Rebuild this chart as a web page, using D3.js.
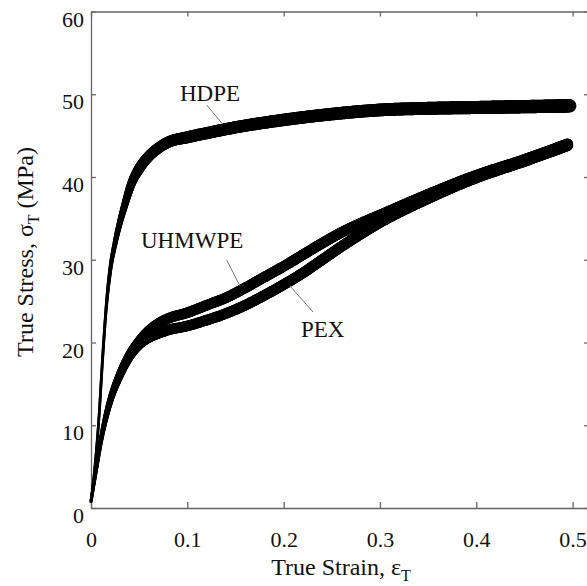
<!DOCTYPE html>
<html>
<head>
<meta charset="utf-8">
<script src="https://cdn.jsdelivr.net/npm/d3@7"></script>
<style>
  body { margin: 0; background: #fff; }
  svg { font-family: "Liberation Serif", "Times New Roman", serif; }
</style>
</head>
<body>
<svg id="chart" width="587" height="586"></svg>
<script>
// values: [true strain, true stress MPa]
var hdpe = [[0,0.8],[0.004,5],[0.008,10.5],[0.012,18],[0.016,24.5],[0.02,28.8],[0.025,32],
  [0.03,34.5],[0.035,36.6],[0.042,39.2],[0.05,41],[0.06,42.5],[0.07,43.5],[0.08,44.2],
  [0.1,44.8],[0.12,45.3],[0.15,46],[0.2,46.9],[0.25,47.6],[0.3,48.1],[0.35,48.3],
  [0.4,48.4],[0.45,48.5],[0.497,48.6]];
var uhmwpe = [[0,0.8],[0.005,4.5],[0.01,8.2],[0.015,11],[0.02,13.2],[0.03,16.3],[0.04,18.6],
  [0.05,20.2],[0.06,21.4],[0.07,22.3],[0.08,22.9],[0.1,23.6],[0.12,24.5],[0.14,25.4],
  [0.16,26.6],[0.18,27.9],[0.2,29.2],[0.22,30.6],[0.24,32],[0.26,33.3],[0.28,34.4],
  [0.3,35.4],[0.35,37.9],[0.4,40.2],[0.45,42.1],[0.495,44]];
var pex = [[0,0.8],[0.005,4.3],[0.01,7.8],[0.015,10.6],[0.02,12.8],[0.03,15.9],[0.04,18.2],
  [0.05,19.7],[0.06,20.6],[0.07,21.1],[0.08,21.5],[0.1,22],[0.12,22.7],[0.14,23.5],
  [0.16,24.5],[0.18,25.7],[0.2,27],[0.22,28.4],[0.24,30],[0.26,31.6],[0.28,33.1],
  [0.3,34.5],[0.35,37.4],[0.4,39.9],[0.45,41.9],[0.495,43.8]];
var xTicks = [0, 0.1, 0.2, 0.3, 0.4, 0.5];
var yTicks = [0, 10, 20, 30, 40, 50, 60];

var svg = d3.select("#chart");
var x = d3.scaleLinear().domain([0, 0.516]).range([91, 588]);
var y = d3.scaleLinear().domain([0, 60]).range([508, 11.5]);

var axisColor = "#666";

function styleAxis(g) {
  g.selectAll("path, line").attr("stroke", axisColor).attr("stroke-width", 1.3);
  g.selectAll("text").attr("fill", "#111").style("font-size", "22px")
    .style("font-family", "'Liberation Serif', 'Times New Roman', serif");
}

svg.append("g").attr("transform", "translate(0,508)")
  .call(d3.axisBottom(x).tickValues(xTicks).tickSizeInner(-6).tickSizeOuter(0).tickPadding(23)
    .tickFormat(d => d === 0 ? "0" : d3.format(".1f")(d)))
  .call(styleAxis);

svg.append("g").attr("transform", "translate(0,11.5)")
  .call(d3.axisTop(x).tickValues(xTicks).tickSizeInner(-5).tickSizeOuter(0).tickFormat(""))
  .call(styleAxis);

var left = svg.append("g").attr("transform", "translate(91,0)")
  .call(d3.axisLeft(y).tickValues(yTicks).tickSizeInner(-5).tickSizeOuter(0).tickPadding(7))
  .call(styleAxis);
left.selectAll("text").attr("dy", "0.66em");

svg.append("g").attr("transform", "translate(588,0)")
  .call(d3.axisRight(y).tickValues(yTicks).tickSizeInner(-4).tickSizeOuter(0).tickFormat(""))
  .call(styleAxis);

// curves: thin near the origin, thicker noisy band once yielding.
// the smooth path is walked along its length so the stroke can widen gradually
var line = d3.line().x(d => x(d[0])).y(d => y(d[1])).curve(d3.curveMonotoneX);

function drawCurve(data, width) {
  var guide = svg.append("path").attr("d", line(data)).attr("fill", "none").attr("stroke", "none");
  var node = guide.node();
  var len = node.getTotalLength();
  var pts = [];
  for (var s = 0; s <= len; s += 1.5) pts.push(node.getPointAtLength(s));
  pts.push(node.getPointAtLength(len));
  guide.remove();
  svg.append("g")
    .selectAll("line")
    .data(d3.pairs(pts))
    .join("line")
    .attr("x1", d => d[0].x).attr("y1", d => d[0].y)
    .attr("x2", d => d[1].x).attr("y2", d => d[1].y)
    .attr("stroke", "#000")
    .attr("stroke-linecap", "round")
    .attr("stroke-width", d => width(x.invert((d[0].x + d[1].x) / 2)));
}

var hdpeWidth = d3.scaleLinear().domain([0, 0.015, 0.03, 0.05, 0.1, 0.5])
  .range([2.5, 3, 6, 10.5, 12, 13.5]).clamp(true);
var peWidth = d3.scaleLinear().domain([0, 0.01, 0.03, 0.06, 0.5])
  .range([3, 4, 7, 10.5, 11]).clamp(true);

drawCurve(hdpe, hdpeWidth);
drawCurve(uhmwpe, peWidth);
drawCurve(pex, peWidth);

// labels with pointer lines
var labels = [
  { text: "HDPE", tx: 180, ty: 101, from: [206.7, 105], to: [221.7, 123] },
  { text: "UHMWPE", tx: 141, ty: 248, from: [226.7, 260], to: [240, 286] },
  { text: "PEX", tx: 301, ty: 337, from: [313, 312], to: [290, 286] }
];
labels.forEach(function (l) {
  svg.append("line")
    .attr("x1", l.from[0]).attr("y1", l.from[1])
    .attr("x2", l.to[0]).attr("y2", l.to[1])
    .attr("stroke", "#777").attr("stroke-width", 1);
  svg.append("text")
    .attr("x", l.tx).attr("y", l.ty)
    .attr("fill", "#111")
    .style("font-size", "23px")
    .text(l.text);
});

// axis titles
var xt = svg.append("text")
  .attr("x", 341).attr("y", 575)
  .attr("text-anchor", "middle")
  .attr("fill", "#111")
  .style("font-size", "24px");
xt.append("tspan").text("True Strain, ε");
xt.append("tspan").attr("dy", 6).style("font-size", "16px").text("T");

var yt = svg.append("text")
  .attr("transform", "translate(33,252) rotate(-90)")
  .attr("text-anchor", "middle")
  .attr("fill", "#111")
  .style("font-size", "24px");
yt.append("tspan").text("True Stress, σ");
yt.append("tspan").attr("dy", 6).style("font-size", "16px").text("T");
yt.append("tspan").attr("dy", -6).text(" (MPa)");
</script>
</body>
</html>
